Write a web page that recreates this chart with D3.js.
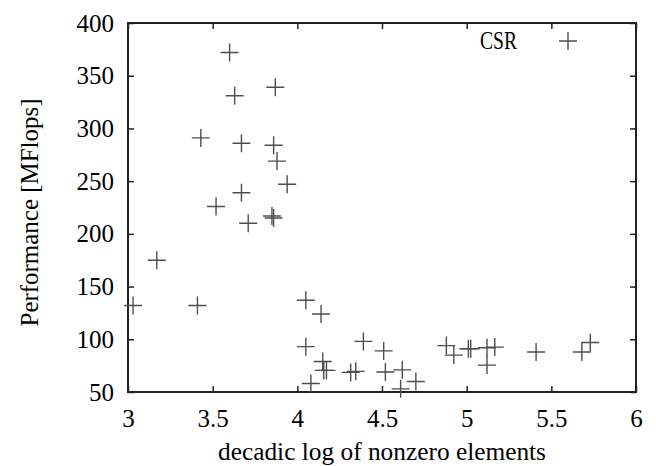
<!DOCTYPE html>
<html>
<head>
<meta charset="utf-8">
<script src="https://cdn.jsdelivr.net/npm/d3@7"></script>
<style>
  body { margin: 0; background: #fff; }
  text { font-family: "Liberation Serif", "DejaVu Serif", serif; fill: #000; }
</style>
</head>
<body>
<div id="chart"></div>
<script>
// decadic log of nonzero elements
const logNnz = [3.60, 3.87, 3.63, 3.43, 3.67, 3.86, 3.88, 3.94, 3.67, 3.52,
                3.85, 3.86, 3.71, 3.17, 3.03, 3.41, 4.05, 4.14, 4.05, 4.08,
                4.39, 4.51, 4.15, 4.156, 4.172, 4.315, 4.345, 4.52, 4.62, 4.70,
                4.61, 4.88, 4.924, 5.01, 5.024, 5.12, 5.166, 5.12, 5.41, 5.68, 5.73];
// performance in MFlops
const mflops = [372, 339, 331, 291, 286, 284, 269, 247, 239, 226,
                217, 215, 210, 175, 132, 132, 137, 124, 93, 58,
                98, 89, 79, 70.5, 70.5, 68.6, 69.6, 69, 71, 60,
                53, 94, 85, 91, 91, 92, 92.6, 75.5, 88, 88, 97];
const xTicks = [3, 3.5, 4, 4.5, 5, 5.5, 6];
const yTicks = [50, 100, 150, 200, 250, 300, 350, 400];
const seriesName = "CSR";

const W = 656, H = 466;
const margin = { top: 23, right: 20, bottom: 74, left: 128 };
const width = W - margin.left - margin.right;
const height = H - margin.top - margin.bottom;

const svg = d3.select("#chart").append("svg")
    .attr("width", W).attr("height", H)
    .append("g")
    .attr("transform", `translate(${margin.left},${margin.top})`);

const x = d3.scaleLinear().domain([3, 6]).range([0, width]);
const y = d3.scaleLinear().domain([50, 400]).range([height, 0]);

const tickLen = 6;

// axes with inward ticks, mirrored on top and right
function styleAxis(g) {
    g.select(".domain").remove();
    g.selectAll(".tick line").attr("stroke", "#222").attr("stroke-width", 1.5);
    g.selectAll(".tick text").attr("font-size", 25).attr("fill", "#000");
}
svg.append("g")
    .attr("transform", `translate(0,${height})`)
    .call(d3.axisBottom(x).tickValues(xTicks).tickFormat(d3.format("")).tickSizeInner(-tickLen).tickPadding(17))
    .call(styleAxis);
svg.append("g")
    .call(d3.axisTop(x).tickValues(xTicks).tickFormat("").tickSizeInner(-tickLen))
    .call(styleAxis);
svg.append("g")
    .call(d3.axisLeft(y).tickValues(yTicks).tickFormat(d3.format("")).tickSizeInner(-tickLen).tickPadding(14))
    .call(styleAxis);
svg.append("g")
    .attr("transform", `translate(${width},0)`)
    .call(d3.axisRight(y).tickValues(yTicks).tickFormat("").tickSizeInner(-tickLen))
    .call(styleAxis);

// frame
svg.append("rect")
    .attr("width", width).attr("height", height)
    .attr("fill", "none").attr("stroke", "#222").attr("stroke-width", 2);

// cross markers
const arm = 9;
function cross(g, cx, cy) {
    g.append("path")
        .attr("d", `M${cx - arm},${cy}H${cx + arm}M${cx},${cy - arm}V${cy + arm}`)
        .attr("stroke", "#4a4f4f").attr("stroke-width", 1.4).attr("fill", "none");
}
const pts = svg.append("g");
logNnz.forEach((v, i) => cross(pts, x(v), y(mflops[i])));

// legend
svg.append("text")
    .attr("x", 389).attr("y", 26)
    .attr("text-anchor", "end")
    .attr("font-size", 25)
    .attr("textLength", 37)
    .attr("lengthAdjust", "spacingAndGlyphs")
    .text(seriesName);
cross(svg.append("g"), 440, 18);

// axis titles
svg.append("text")
    .attr("x", width / 2).attr("y", height + 68)
    .attr("text-anchor", "middle")
    .attr("font-size", 25)
    .attr("textLength", 328)
    .attr("lengthAdjust", "spacingAndGlyphs")
    .text("decadic log of nonzero elements");
svg.append("text")
    .attr("transform", `translate(${-90},${height / 2 + 5}) rotate(-90)`)
    .attr("text-anchor", "middle")
    .attr("font-size", 25)
    .attr("textLength", 228)
    .attr("lengthAdjust", "spacingAndGlyphs")
    .text("Performance [MFlops]");
</script>
</body>
</html>
